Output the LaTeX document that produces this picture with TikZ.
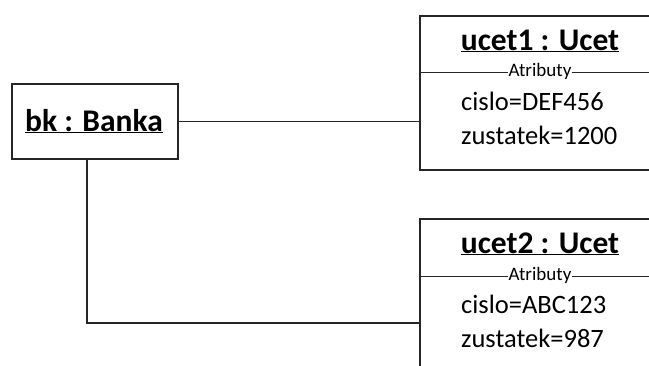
\documentclass[tikz,border=0pt]{standalone}
\usepackage{fontspec}
\setmainfont{Carlito}
\begin{document}
\begin{tikzpicture}[x=1pt,y=-1pt,
  obj/.style={draw=black!85,line width=1.6pt,rectangle,inner sep=0pt,anchor=north west},
  link/.style={draw=black!85,line width=1.3pt},
  sep/.style={draw=black!85,line width=1pt},
  title/.style={font=\fontsize{31.5}{34}\selectfont\bfseries,inner sep=0pt,anchor=base},
  attr/.style={font=\fontsize{26.5}{30}\selectfont,inner sep=0pt,anchor=base west},
  compart/.style={font=\fontsize{19}{21}\selectfont,inner xsep=1pt,inner ysep=0pt,fill=white}]
\useasboundingbox (0,0) rectangle (649,365);
\clip (0,0) rectangle (649,365);

% object boxes
\node[obj,minimum width=166pt,minimum height=75pt] (bk) at (11,83) {};
\node[obj,minimum width=260pt,minimum height=154pt] (u1) at (419,15) {};
\node[obj,minimum width=260pt,minimum height=180pt] (u2) at (419,218) {};

% box titles
\node[title] (bkt) at (94,131) {\underline{bk : Banka}};
\node[title] (u1t) at (540,50) {\underline{ucet1 : Ucet}};
\node[title] (u2t) at (540,253) {\underline{ucet2 : Ucet}};

% attribute compartments
\draw[sep] (u1.west |- 0,72) -- (649,72);
\node[compart] (u1c) at (540,71) {Atributy};
\node[attr] (u1a) at (461,110) {cislo=DEF456};
\node[attr] (u1b) at (461,144) {zustatek=1200};

\draw[sep] (u2.west |- 0,276) -- (649,276);
\node[compart] (u2c) at (540,275) {Atributy};
\node[attr] (u2a) at (461,313) {cislo=ABC123};
\node[attr] (u2b) at (461,347) {zustatek=987};

% links
\coordinate (drop) at (87,158);
\coordinate (elbow) at (87,323);
\draw[link] (bk.east) -- (bk.east -| u1.west);
\draw[link] (drop) -- (elbow) -- (elbow -| u2.west);
\end{tikzpicture}
\end{document}
